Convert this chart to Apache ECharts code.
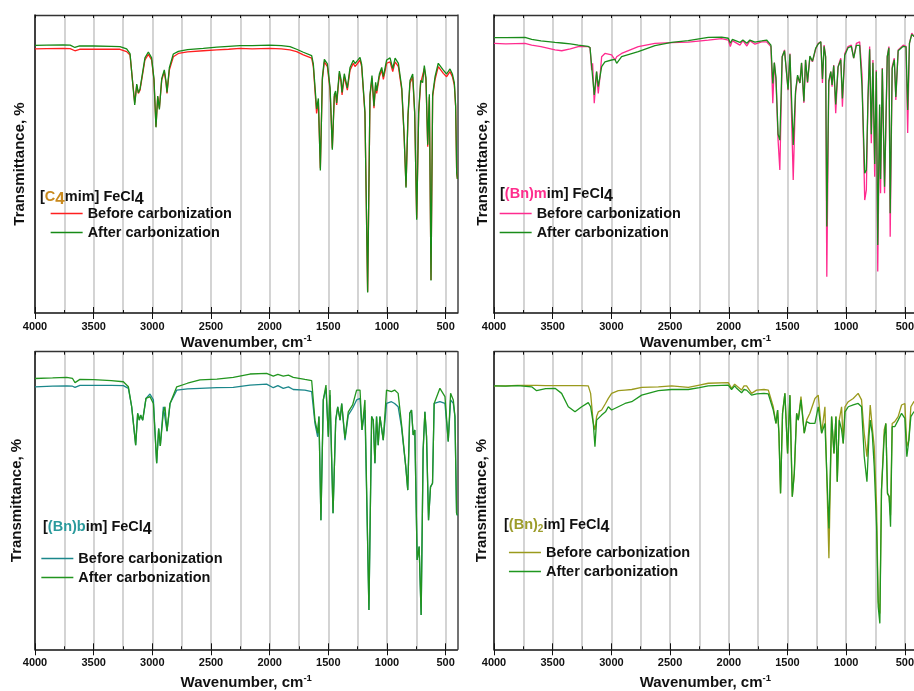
<!DOCTYPE html>
<html>
<head>
<meta charset="utf-8">
<script src="https://cdn.jsdelivr.net/npm/echarts@6/dist/echarts.min.js"></script>
<style>
  html, body { margin: 0; padding: 0; background: #ffffff; }
  #chart { width: 914px; height: 691px; }
</style>
</head>
<body>
<div id="chart"></div>
<script>
// Wavenumber axis: minor ticks / grid lines every 250, labels every 500 cm-1
const tickValues = [4000, 3750, 3500, 3250, 3000, 2750, 2500, 2250, 2000, 1750, 1500, 1250, 1000, 750, 500];
const labelValues = [4000, 3500, 3000, 2500, 2000, 1500, 1000, 500];

// [C4mim] FeCl4 spectra (wavenumber, cm-1 / transmittance, a.u.)
const c4mimWavenumber = [
  4000, 3900, 3760, 3700, 3660, 3620, 3500, 3350, 3276, 3219,
  3190, 3167, 3150, 3133, 3119, 3105, 3090, 3063, 3034, 3006,
  2986, 2969, 2954, 2940, 2920, 2898, 2883, 2875, 2855, 2821,
  2778, 2700, 2566, 2450, 2350, 2253, 2150, 2000, 1900, 1827,
  1770, 1713, 1642, 1628, 1600, 1585, 1568, 1551, 1534, 1508,
  1485, 1466, 1449, 1438, 1429, 1406, 1392, 1383, 1364, 1349,
  1338, 1315, 1287, 1273, 1250, 1230, 1216, 1188, 1165, 1145,
  1128, 1111, 1097, 1088, 1065, 1045, 1031, 1003, 974, 951,
  931, 903, 874, 854, 838, 821, 804, 781, 764, 747,
  730, 713, 696, 682, 668, 653, 639, 625, 611, 591,
  563, 520, 492, 463, 443, 426, 415, 406, 400
];
const c4mimBefore = [
  88.6, 88.7, 88.8, 88.7, 88.0, 88.5, 88.5, 88.5, 88.5, 87.7,
  86.6, 77.2, 70.6, 76.5, 73.7, 74.8, 75.4, 84.9, 86.8, 84.9,
  78.2, 62.5, 72.6, 68.7, 78.2, 81.0, 77.1, 73.7, 81.5, 86.0,
  87.1, 87.6, 88.0, 88.3, 88.5, 88.8, 88.6, 88.8, 88.6, 88.3,
  87.7, 86.6, 85.5, 82.7, 67.0, 70.9, 48.6, 78.2, 84.3, 82.7,
  74.8, 55.3, 72.6, 73.7, 69.8, 80.4, 77.6, 73.2, 79.3, 79.9,
  74.8, 81.5, 83.8, 82.7, 83.8, 84.9, 82.7, 67.0, 7.1, 72.6,
  78.8, 68.7, 76.5, 73.7, 79.3, 81.5, 78.4, 83.8, 84.3, 81.0,
  84.3, 82.7, 74.8, 59.2, 42.4, 65.9, 77.1, 79.3, 67.0, 31.8,
  67.0, 77.1, 76.5, 82.1, 78.2, 55.8, 72.6, 11.1, 72.6, 78.2,
  82.7, 80.4, 79.3, 81.0, 79.3, 76.5, 69.2, 46.9, 45.0
];
const c4mimAfter = [
  89.8, 89.9, 90.0, 89.9, 89.1, 89.6, 89.6, 89.5, 89.4, 88.6,
  87.0, 77.0, 69.8, 76.8, 73.9, 75.2, 75.8, 85.6, 87.6, 85.6,
  78.5, 62.3, 72.8, 68.3, 78.6, 81.6, 77.6, 74.0, 82.3, 86.9,
  87.8, 88.4, 88.8, 89.2, 89.5, 89.7, 89.7, 89.9, 89.7, 89.4,
  88.5, 87.5, 86.4, 83.6, 68.5, 72.0, 47.8, 79.0, 85.1, 83.6,
  75.6, 54.8, 73.3, 74.5, 70.5, 81.2, 78.4, 74.0, 80.3, 80.9,
  75.5, 82.4, 84.8, 83.7, 84.8, 85.8, 83.4, 67.4, 6.9, 73.2,
  79.7, 69.4, 77.4, 74.5, 80.2, 82.4, 79.3, 84.9, 85.6, 82.0,
  85.5, 83.8, 75.5, 59.6, 42.0, 66.5, 78.0, 80.2, 67.4, 31.3,
  67.6, 78.0, 77.3, 83.0, 79.0, 56.5, 73.4, 10.9, 73.3, 79.2,
  83.8, 81.5, 80.2, 81.9, 80.2, 77.2, 69.6, 47.0, 45.0
];

// [(Bn)mim] FeCl4 spectra
const bnmimWavenumber = [
  4000, 3900, 3736, 3679, 3600, 3480, 3423, 3350, 3282, 3200,
  3182, 3168, 3160, 3146, 3126, 3112, 3097, 3083, 3055, 2998,
  2969, 2955, 2913, 2771, 2629, 2487, 2345, 2175, 2061, 2004,
  1987, 1970, 1905, 1880, 1846, 1820, 1777, 1720, 1678, 1641,
  1625, 1612, 1598, 1580, 1565, 1545, 1525, 1513, 1495, 1479,
  1451, 1431, 1414, 1394, 1380, 1360, 1346, 1329, 1309, 1287,
  1260, 1238, 1216, 1202, 1188, 1175, 1165, 1148, 1131, 1120,
  1106, 1089, 1069, 1046, 1032, 1012, 984, 956, 936, 913,
  885, 865, 842, 828, 814, 800, 786, 772, 757, 743,
  731, 715, 707, 692, 673, 650, 636, 625, 608, 590,
  577, 557, 514, 490, 476, 461, 441, 421, 400
];
const bnmimBefore = [
  90.5, 90.3, 90.5, 89.9, 89.4, 88.3, 88.0, 88.6, 89.4, 89.4,
  89.1, 81.5, 83.8, 70.4, 81.0, 73.7, 79.3, 86.0, 87.1, 86.6,
  84.9, 86.0, 87.1, 89.4, 90.5, 90.7, 90.9, 91.6, 92.1, 91.6,
  89.4, 91.4, 89.9, 91.4, 89.6, 91.4, 90.2, 91.0, 91.0, 89.4,
  70.4, 84.0, 78.0, 58.0, 48.0, 86.0, 88.3, 88.8, 74.8, 87.1,
  44.6, 73.8, 79.3, 77.2, 83.9, 70.5, 84.9, 77.2, 86.0, 84.3,
  88.5, 90.5, 91.0, 77.2, 89.9, 86.0, 12.2, 77.1, 81.0, 75.9,
  83.2, 67.0, 82.7, 85.5, 69.2, 87.1, 89.4, 89.9, 85.5, 90.5,
  91.0, 80.0, 37.9, 41.3, 72.5, 89.4, 57.0, 84.9, 45.7, 81.5,
  13.9, 69.1, 40.2, 82.2, 40.2, 86.0, 89.4, 25.6, 82.7, 85.5,
  71.5, 88.3, 89.9, 89.5, 60.4, 90.5, 93.9, 92.8, 93.0
];
const bnmimAfter = [
  92.4, 92.4, 92.5, 91.8, 91.3, 90.8, 90.6, 90.3, 89.9, 89.5,
  89.1, 82.7, 83.2, 73.2, 81.0, 76.0, 79.3, 82.7, 84.3, 84.9,
  85.1, 83.8, 86.0, 87.7, 89.7, 90.8, 91.4, 92.5, 92.6, 92.2,
  90.5, 91.8, 90.8, 91.6, 90.5, 91.6, 90.9, 91.3, 91.6, 89.9,
  77.0, 84.0, 79.0, 60.0, 58.0, 86.0, 88.0, 88.6, 75.0, 86.8,
  56.4, 74.5, 79.8, 77.2, 84.0, 71.0, 85.0, 77.5, 86.2, 84.5,
  88.8, 90.3, 91.0, 78.5, 89.5, 86.0, 29.0, 78.0, 81.0, 76.5,
  83.0, 70.0, 82.5, 85.0, 72.0, 86.5, 89.0, 89.5, 85.5, 89.8,
  89.8, 76.0, 46.9, 48.0, 72.0, 88.5, 60.0, 84.0, 50.0, 81.0,
  22.8, 70.0, 45.0, 82.0, 42.4, 86.0, 89.0, 33.5, 82.0, 85.0,
  72.5, 88.0, 89.5, 89.3, 68.1, 90.5, 93.5, 92.8, 93.0
];

// [(Bn)bim] FeCl4 spectra
const bnbimWavenumber = [
  4000, 3850, 3730, 3680, 3659, 3617, 3500, 3350, 3247, 3204,
  3176, 3142, 3125, 3111, 3100, 3082, 3054, 3020, 2991, 2963,
  2946, 2932, 2906, 2892, 2875, 2849, 2792, 2700, 2594, 2450,
  2310, 2168, 2026, 1969, 1930, 1884, 1840, 1799, 1700, 1642,
  1614, 1591, 1580, 1563, 1543, 1520, 1500, 1486, 1477, 1460,
  1437, 1420, 1400, 1386, 1358, 1330, 1293, 1259, 1230, 1213,
  1188, 1154, 1131, 1117, 1103, 1089, 1075, 1060, 1032, 1004,
  962, 935, 905, 877, 840, 823, 806, 791, 777, 763,
  743, 726, 709, 692, 677, 663, 646, 629, 612, 598,
  549, 506, 478, 458, 435, 421, 407, 400
];
const bnbimBefore = [
  88.2, 88.4, 88.5, 88.4, 88.0, 88.7, 88.7, 88.7, 88.6, 87.7,
  81.5, 68.6, 79.3, 77.0, 78.7, 77.0, 84.3, 85.8, 83.8, 62.5,
  74.2, 68.3, 81.5, 81.5, 73.3, 82.6, 87.1, 87.5, 87.7, 87.9,
  88.0, 88.8, 89.1, 87.9, 88.6, 87.7, 88.2, 87.3, 87.1, 86.6,
  75.9, 71.4, 78.2, 43.4, 83.8, 87.7, 71.4, 85.4, 85.4, 45.7,
  77.0, 81.5, 77.0, 82.6, 70.3, 78.7, 81.0, 83.8, 84.3, 73.7,
  80.4, 13.2, 78.2, 77.0, 62.5, 78.2, 68.6, 78.2, 70.3, 82.6,
  83.2, 82.6, 81.5, 74.8, 61.4, 53.5, 79.3, 80.4, 72.0, 73.7,
  30.0, 34.5, 11.5, 67.0, 79.8, 71.4, 43.4, 54.6, 55.8, 82.6,
  83.2, 82.6, 69.8, 83.8, 82.6, 78.2, 45.7, 45.0
];
const bnbimAfter = [
  91.0, 91.2, 91.4, 91.0, 89.6, 90.7, 90.6, 90.3, 89.9, 88.2,
  81.5, 68.6, 79.3, 77.0, 78.7, 77.0, 84.3, 84.9, 82.6, 62.5,
  74.2, 68.3, 79.8, 81.5, 73.3, 82.6, 88.2, 89.4, 90.5, 90.8,
  91.4, 92.5, 92.7, 91.8, 92.4, 91.8, 92.1, 91.4, 90.7, 90.3,
  77.0, 72.6, 78.2, 43.4, 83.8, 88.8, 71.4, 87.1, 87.1, 45.7,
  77.0, 81.5, 77.0, 82.6, 70.9, 79.8, 82.1, 87.1, 87.1, 73.7,
  83.8, 13.2, 78.2, 77.0, 62.5, 78.2, 68.6, 78.2, 70.3, 87.1,
  86.6, 87.1, 86.0, 75.9, 61.4, 53.5, 79.3, 80.4, 72.0, 73.7,
  30.0, 34.5, 11.5, 67.0, 79.8, 71.4, 43.4, 54.6, 55.8, 82.6,
  87.7, 84.9, 69.8, 86.0, 83.8, 78.2, 45.7, 45.0
];

// [(Bn)2im] FeCl4 spectra
const bn2imWavenumber = [
  4000, 3900, 3800, 3679, 3637, 3560, 3480, 3424, 3367, 3310,
  3253, 3197, 3177, 3154, 3140, 3126, 3111, 3083, 3050, 3026,
  2998, 2941, 2884, 2827, 2742, 2600, 2487, 2345, 2250, 2175,
  2004, 1976, 1950, 1933, 1891, 1870, 1848, 1806, 1763, 1700,
  1663, 1621, 1598, 1584, 1573, 1559, 1542, 1522, 1499, 1479,
  1459, 1442, 1422, 1408, 1385, 1357, 1337, 1309, 1266, 1238,
  1209, 1181, 1147, 1124, 1104, 1087, 1076, 1059, 1039, 1025,
  1010, 982, 940, 898, 869, 846, 823, 806, 795, 778,
  761, 741, 727, 713, 699, 676, 662, 648, 634, 622,
  608, 586, 557, 528, 500, 483, 466, 449, 423, 400
];
const bn2imBefore = [
  88.5, 88.5, 88.7, 88.7, 88.7, 88.6, 88.6, 88.6, 88.6, 88.6,
  88.6, 88.5, 86.0, 75.9, 73.7, 78.2, 79.8, 80.4, 82.6, 84.3,
  86.0, 86.9, 87.1, 87.3, 88.0, 88.2, 88.5, 88.0, 88.8, 89.4,
  89.6, 87.7, 89.1, 88.8, 87.1, 88.5, 88.5, 86.0, 87.1, 87.3,
  87.1, 81.5, 75.9, 80.4, 72.6, 52.4, 79.3, 86.0, 65.8, 85.4,
  51.3, 59.1, 79.3, 77.0, 84.9, 72.6, 77.0, 79.3, 84.3, 85.4,
  72.6, 81.5, 30.6, 78.2, 65.8, 78.2, 56.3, 77.0, 81.5, 69.2,
  81.5, 83.2, 84.3, 86.0, 83.8, 72.6, 64.7, 74.8, 82.1, 74.8,
  68.1, 47.9, 16.0, 12.0, 53.5, 73.7, 75.9, 52.4, 51.3, 45.0,
  75.9, 76.5, 78.2, 82.1, 82.6, 68.1, 70.3, 81.5, 83.2, 83.0
];
const bn2imAfter = [
  88.5, 88.4, 88.6, 88.2, 86.9, 87.6, 87.7, 86.0, 81.5, 79.8,
  81.5, 82.9, 81.5, 75.9, 68.1, 77.0, 77.0, 78.7, 79.8, 81.5,
  80.4, 81.5, 82.6, 83.2, 85.4, 86.9, 87.3, 87.3, 87.9, 88.5,
  88.8, 87.3, 88.5, 87.7, 86.2, 87.3, 87.1, 85.4, 85.8, 86.0,
  85.8, 80.4, 75.9, 80.4, 72.6, 52.4, 79.3, 86.0, 65.8, 85.4,
  51.3, 59.1, 79.3, 77.0, 83.8, 72.6, 76.5, 75.9, 75.9, 81.5,
  72.6, 75.9, 40.6, 78.2, 65.8, 78.2, 56.3, 77.0, 73.7, 69.2,
  79.8, 81.5, 82.1, 82.6, 81.5, 64.7, 56.3, 71.4, 77.0, 72.6,
  61.4, 41.2, 14.3, 8.7, 53.5, 71.4, 75.9, 52.4, 51.3, 41.2,
  74.8, 74.8, 77.0, 79.3, 77.6, 64.7, 70.3, 78.2, 79.8, 80.0
];

const legendLabels = ['Before carbonization', 'After carbonization'];
const FONT = '"Liberation Sans", Arial, Helvetica, sans-serif';

// Panel layout and styling
const panels = [
  {
    key: 'c4mim', wn: c4mimWavenumber, before: c4mimBefore, after: c4mimAfter,
    grid: { left: 35, top: 15, width: 422.4, height: 298 },
    colors: ['#ff1f1f', '#168a16'], accent: '#c98a1e',
    title: '{k|[}{c|C}{cs|4}{k|mim] FeCl}{s|4}', titlePos: [40, 186],
    legendPos: [50, 206], yNameGap: 8, xNameGap: 20
  },
  {
    key: 'bnmim', wn: bnmimWavenumber, before: bnmimBefore, after: bnmimAfter,
    grid: { left: 494, top: 15, width: 422.6, height: 298 },
    colors: ['#ff2b8f', '#1a8c1a'], accent: '#ff2d8d',
    title: '{k|[}{c|(Bn)m}{k|im] FeCl}{s|4}', titlePos: [500, 183],
    legendPos: [499, 206], yNameGap: 4, xNameGap: 20
  },
  {
    key: 'bnbim', wn: bnbimWavenumber, before: bnbimBefore, after: bnbimAfter,
    grid: { left: 35, top: 351.7, width: 422.4, height: 297.6 },
    colors: ['#1b878b', '#22951f'], accent: '#2a9a9c',
    title: '{k|[}{c|(Bn)b}{k|im] FeCl}{s|4}', titlePos: [43, 516],
    legendPos: [40.7, 551], yNameGap: 11, xNameGap: 24
  },
  {
    key: 'bn2im', wn: bn2imWavenumber, before: bn2imBefore, after: bn2imAfter,
    grid: { left: 494, top: 351.7, width: 422.6, height: 297.6 },
    colors: ['#9a9a1c', '#1f971f'], accent: '#9c9c2a',
    title: '{k|[}{c|(Bn)}{c2|2}{k|im] FeCl}{s|4}', titlePos: [504, 514],
    legendPos: [508.3, 545], yNameGap: 4.5, xNameGap: 24
  }
];

const grids = [], xAxes = [], yAxes = [], series = [], titles = [], legends = [];

panels.forEach((p, gi) => {
  grids.push(Object.assign({ containLabel: false, outerBoundsMode: 'none' }, p.grid));

  const common = { type: 'value', gridIndex: gi, min: 400, max: 4000, inverse: true };
  const tickLine = { color: '#111', width: 1 };
  // bottom axis: labels, minor ticks, vertical grid lines
  xAxes.push(Object.assign({}, common, {
    position: 'bottom',
    name: 'Wavenumber, cm{sup|-1}',
    nameLocation: 'middle',
    nameGap: p.xNameGap,
    nameTextStyle: {
      fontFamily: FONT, fontSize: 15, fontWeight: 'bold', color: '#111',
      rich: { sup: { fontFamily: FONT, fontSize: 9.5, fontWeight: 'bold', color: '#111', padding: [0, 0, 9, 0] } }
    },
    axisLine: { show: true, onZero: false, lineStyle: { color: '#111', width: 1.5 } },
    axisTick: { show: true, inside: true, length: 3, customValues: tickValues, lineStyle: tickLine },
    axisLabel: {
      show: true, customValues: labelValues, formatter: v => String(v),
      fontFamily: FONT, fontSize: 11, fontWeight: 'bold', color: '#111', margin: 8
    },
    splitLine: { show: true, lineStyle: { color: '#c9c9c9', width: 1.6 } }
  }));
  // bottom axis: major ticks
  xAxes.push(Object.assign({}, common, {
    position: 'bottom',
    axisLine: { show: false },
    axisTick: { show: true, inside: true, length: 6, customValues: labelValues, lineStyle: tickLine },
    axisLabel: { show: false },
    splitLine: { show: false }
  }));
  // top frame: minor ticks
  xAxes.push(Object.assign({}, common, {
    position: 'top',
    axisLine: { show: true, onZero: false, lineStyle: { color: '#333', width: 1.3 } },
    axisTick: { show: true, inside: true, length: 3, customValues: tickValues, lineStyle: tickLine },
    axisLabel: { show: false },
    splitLine: { show: false }
  }));
  // top frame: major ticks
  xAxes.push(Object.assign({}, common, {
    position: 'top',
    axisLine: { show: false },
    axisTick: { show: true, inside: true, length: 6, customValues: labelValues, lineStyle: tickLine },
    axisLabel: { show: false },
    splitLine: { show: false }
  }));

  yAxes.push({
    type: 'value', gridIndex: gi, min: 0, max: 100, position: 'left',
    name: 'Transmittance, %', nameLocation: 'middle', nameGap: p.yNameGap,
    nameTextStyle: { fontFamily: FONT, fontSize: 15, fontWeight: 'bold', color: '#111' },
    axisLine: { show: true, onZero: false, lineStyle: { color: '#111', width: 1.5 } },
    axisTick: { show: false }, axisLabel: { show: false }, splitLine: { show: false }
  });
  yAxes.push({
    type: 'value', gridIndex: gi, min: 0, max: 100, position: 'right',
    axisLine: { show: true, onZero: false, lineStyle: { color: '#444', width: 1.5 } },
    axisTick: { show: false }, axisLabel: { show: false }, splitLine: { show: false }
  });

  const names = [p.key + ' before', p.key + ' after'];
  [p.before, p.after].forEach((vals, si) => {
    series.push({
      name: names[si],
      type: 'line',
      xAxisIndex: gi * 4,
      yAxisIndex: gi * 2,
      data: p.wn.map((w, i) => [w, vals[i]]),
      showSymbol: false,
      smooth: false,
      silent: true,
      animation: false,
      clip: true,
      color: p.colors[si],
      lineStyle: { color: p.colors[si], width: 1.3 },
      z: 2 + si
    });
  });

  titles.push({
    text: p.title,
    left: p.titlePos[0], top: p.titlePos[1], padding: 0,
    textStyle: {
      fontFamily: FONT, fontSize: 14.5, fontWeight: 'bold', color: '#111',
      rich: {
        k: { fontFamily: FONT, fontSize: 14.5, fontWeight: 'bold', color: '#111' },
        c: { fontFamily: FONT, fontSize: 14.5, fontWeight: 'bold', color: p.accent },
        cs: { fontFamily: FONT, fontSize: 17, fontWeight: 'bold', color: p.accent, padding: [5, 0, 0, 0] },
        c2: { fontFamily: FONT, fontSize: 10, fontWeight: 'bold', color: p.accent, padding: [9, 0, 0, 0] },
        s: { fontFamily: FONT, fontSize: 16, fontWeight: 'bold', color: '#111', padding: [6, 0, 0, 0] }
      }
    }
  });

  legends.push({
    data: names,
    left: p.legendPos[0], top: p.legendPos[1],
    orient: 'vertical', padding: 0,
    itemWidth: 32, itemHeight: 14, itemGap: 4,
    selectedMode: false,
    itemStyle: { opacity: 0, borderWidth: 0 },
    lineStyle: { width: 1.3 },
    formatter: name => name.endsWith('before') ? legendLabels[0] : legendLabels[1],
    textStyle: { fontFamily: FONT, fontSize: 14.5, fontWeight: 'bold', color: '#111' }
  });
});

const chart = echarts.init(document.getElementById('chart'), null, { renderer: 'canvas' });
chart.setOption({
  backgroundColor: '#ffffff',
  animation: false,
  title: titles,
  legend: legends,
  grid: grids,
  xAxis: xAxes,
  yAxis: yAxes,
  series: series
});
</script>
</body>
</html>
